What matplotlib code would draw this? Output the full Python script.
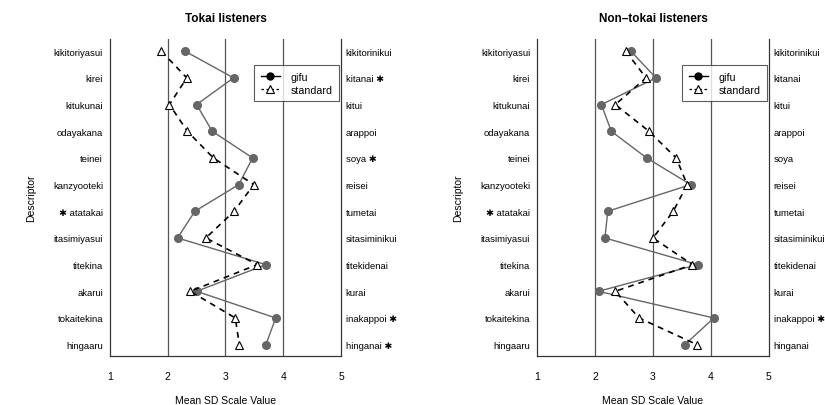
import numpy as np
import matplotlib.pyplot as plt
from matplotlib.lines import Line2D

plt.rcParams['font.family'] = ['Liberation Sans', 'DejaVu Sans']

left_labels = ["kikitoriyasui", "kirei", "kitukunai", "odayakana", "teinei",
               "kanzyooteki", "\u2731 atatakai", "itasimiyasui", "titekina",
               "akarui", "tokaitekina", "hingaaru"]
right_labels_tokai = ["kikitorinikui", "kitanai \u2731", "kitui", "arappoi",
                      "soya \u2731", "reisei", "tumetai", "sitasiminikui",
                      "titekidenai", "kurai", "inakappoi \u2731", "hinganai \u2731"]
right_labels_non = ["kikitorinikui", "kitanai", "kitui", "arappoi", "soya",
                    "reisei", "tumetai", "sitasiminikui", "titekidenai",
                    "kurai", "inakappoi \u2731", "hinganai"]

# mean SD scale values
tokai_gifu = [2.30, 3.14, 2.50, 2.77, 3.47, 3.23, 2.47, 2.17, 3.70, 2.50, 3.87, 3.70]
tokai_std = [1.89, 2.33, 2.03, 2.34, 2.79, 3.49, 3.15, 2.66, 3.55, 2.39, 3.17, 3.24]
non_gifu = [2.62, 3.05, 2.11, 2.28, 2.89, 3.65, 2.22, 2.17, 3.77, 2.06, 4.05, 3.55]
non_std = [2.53, 2.88, 2.35, 2.93, 3.40, 3.59, 3.35, 3.00, 3.68, 2.35, 2.76, 3.76]

panels = [
    ("Tokai listeners", tokai_gifu, tokai_std, right_labels_tokai, [0.1333, 0.121, 0.280, 0.780]),
    ("Non\u2013tokai listeners", non_gifu, non_std, right_labels_non, [0.651, 0.121, 0.281, 0.780]),
]

fig = plt.figure(figsize=(8.25, 4.06), dpi=100)
y = np.arange(len(left_labels))

# legend handles drawn in black, like the original
leg_handles = [
    Line2D([], [], color='black', lw=1.0, marker='o', ms=5, mfc='black', mec='black'),
    Line2D([], [], color='black', lw=0.9, ls=(0, (2, 2)), marker='^', ms=5.5,
           mfc='white', mec='black', mew=0.8),
]

for title, gifu, std, rlabels, pos in panels:
    ax = fig.add_axes(pos)
    for v in [2, 3, 4]:
        ax.axvline(v, color='#555555', lw=0.9, zorder=1)
    ax.plot(gifu, y, '-', color='#666666', lw=1.0, marker='o', ms=5.5,
            mfc='#666666', mec='#666666', zorder=3)
    ax.plot(std, y, '--', color='black', lw=1.2, dashes=(3.5, 3), marker='^', ms=5.5,
            mfc='white', mec='black', mew=0.8, zorder=4)
    ax.set_xlim(1, 5)
    ax.set_ylim(len(y) - 1 + 0.42, -0.45)
    ax.set_xticks([1, 2, 3, 4, 5])
    ax.set_yticks(y)
    ax.set_yticklabels(left_labels)
    ax.tick_params(axis='both', length=0, labelsize=6.8)
    ax.tick_params(axis='x', pad=11, labelsize=7.5)
    ax.tick_params(axis='y', pad=5)
    ax2 = ax.twinx()
    ax2.set_ylim(ax.get_ylim())
    ax2.set_yticks(y)
    ax2.set_yticklabels(rlabels)
    ax2.tick_params(axis='y', length=0, labelsize=6.8, pad=3.5)
    for a in (ax, ax2):
        a.spines['top'].set_visible(False)
        for s in ('left', 'right', 'bottom'):
            a.spines[s].set_linewidth(0.8)
            a.spines[s].set_color('#333333')
    ax.set_title(title, fontsize=8.5, fontweight='bold', pad=13)
    ax.set_xlabel("Mean SD Scale Value", fontsize=7.5, labelpad=10)
    ax.set_ylabel("Descriptor", fontsize=7.5, labelpad=12)
    leg = ax2.legend(leg_handles, ['gifu', 'standard'], loc='upper right',
                     bbox_to_anchor=(0.992, 0.918), fontsize=7.7,
                     frameon=True, fancybox=False, edgecolor='#333333',
                     handlelength=1.8, borderpad=0.6, labelspacing=0.3,
                     handletextpad=1.0, borderaxespad=0)
    leg.get_frame().set_linewidth(0.8)
    leg.set_zorder(5)

fig.savefig("out.png", dpi=100)
